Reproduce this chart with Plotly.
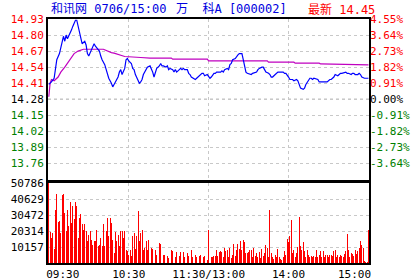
import plotly.graph_objects as go

# ---------------- data ----------------
prev_close = 14.28
last_price = 14.45
title_left = "和讯网 0706/15:00"
title_mid = "万\u00a0\u00a0科A [000002]"
title_right = "最新 14.45"

price_ticks = [14.93, 14.80, 14.67, 14.54, 14.41, 14.28, 14.15, 14.02, 13.89, 13.76]
pct_labels = ["4.55%", "3.64%", "2.73%", "1.82%", "0.91%", "0.00%",
              "-0.91%", "-1.82%", "-2.73%", "-3.64%"]
vol_ticks = [50786, 40629, 30472, 20314, 10157]

time_labels = ["09:30", "10:30", "11:30/13:00", "14:00", "15:00"]
time_label_pos = [10.5, 60, 120, 180, 229.5]
time_grid = [60, 120, 180]

price_min = [0, 2, 4, 6, 8, 10, 11, 12, 13, 14, 16, 17, 18, 19, 20, 21, 22, 23, 24, 25,
             27, 28, 29, 30, 32, 33, 34, 35, 37, 38, 39, 40, 42, 43, 44, 45, 47, 48, 49, 50,
             52, 53, 54, 55, 57, 58, 59, 60, 62, 63, 64, 65, 67, 68, 69, 70, 71, 73, 74, 76,
             77, 78, 79, 80, 81, 83, 84, 85, 86, 88, 89, 90, 91, 93, 94, 95, 96, 98, 99, 100,
             101, 102, 104, 105, 106, 107, 109, 110, 111, 112, 114, 115, 116, 117, 119, 120, 121, 122, 124, 125,
             126, 127, 129, 130, 131, 132, 134, 135, 136, 137, 138, 140, 141, 142, 143, 145, 146, 147, 148, 149,
             151, 152, 153, 155, 156, 157, 158, 160, 161, 162, 163, 165, 166, 167, 168, 170, 171, 172, 173, 175,
             176, 177, 178, 180, 181, 182, 183, 184, 186, 187, 188, 189, 191, 192, 193, 194, 196, 197, 198, 199,
             201, 202, 203, 204, 206, 207, 208, 209, 211, 212, 213, 214, 215, 217, 218, 219, 220, 222, 223, 224,
             225, 227, 228, 229, 230, 232, 233, 234, 235, 237, 238, 240]
price_val = [14.40, 14.42, 14.45, 14.60, 14.65, 14.73, 14.79, 14.75, 14.80, 14.77, 14.81, 14.84, 14.87, 14.90, 14.92, 14.92, 14.87, 14.84, 14.77, 14.73,
             14.75, 14.72, 14.65, 14.63, 14.68, 14.71, 14.73, 14.71, 14.68, 14.67, 14.63, 14.60, 14.56, 14.52, 14.48, 14.45, 14.41, 14.38, 14.40, 14.42,
             14.46, 14.50, 14.52, 14.48, 14.53, 14.60, 14.61, 14.59, 14.57, 14.53, 14.52, 14.48, 14.44, 14.41, 14.42, 14.44, 14.48, 14.52, 14.54, 14.55,
             14.53, 14.50, 14.46, 14.50, 14.53, 14.55, 14.57, 14.55, 14.55, 14.54, 14.55, 14.52, 14.53, 14.52, 14.50, 14.52, 14.50, 14.52, 14.53, 14.52,
             14.53, 14.52, 14.52, 14.49, 14.48, 14.46, 14.45, 14.44, 14.45, 14.46, 14.48, 14.49, 14.49, 14.47, 14.48, 14.46, 14.45, 14.46, 14.49, 14.49,
             14.50, 14.50, 14.50, 14.51, 14.50, 14.52, 14.53, 14.52, 14.56, 14.57, 14.60, 14.61, 14.63, 14.64, 14.65, 14.65, 14.60, 14.53, 14.50, 14.49,
             14.48, 14.48, 14.49, 14.50, 14.50, 14.52, 14.53, 14.54, 14.54, 14.52, 14.50, 14.49, 14.48, 14.46, 14.46, 14.48, 14.49, 14.50, 14.50, 14.50,
             14.50, 14.49, 14.49, 14.46, 14.44, 14.44, 14.44, 14.43, 14.44, 14.43, 14.40, 14.37, 14.36, 14.37, 14.40, 14.42, 14.45, 14.45, 14.44, 14.45,
             14.44, 14.44, 14.42, 14.42, 14.42, 14.42, 14.42, 14.42, 14.44, 14.44, 14.45, 14.46, 14.48, 14.47, 14.48, 14.49, 14.49, 14.50, 14.50, 14.49,
             14.49, 14.48, 14.49, 14.49, 14.48, 14.48, 14.49, 14.48, 14.46, 14.45, 14.45, 14.45]

avg_min = [0, 1, 2, 4, 7, 9, 12, 14, 17, 19, 22, 24, 26, 41, 43, 47, 49, 54, 57, 69,
           76, 92, 93, 119, 120, 164, 165, 184, 185, 203, 204, 240]
avg_val = [14.30, 14.41, 14.44, 14.43, 14.46, 14.50, 14.54, 14.57, 14.61, 14.65,
           14.67, 14.68, 14.685, 14.685, 14.674, 14.658, 14.653, 14.639, 14.626, 14.618,
           14.613, 14.613, 14.605, 14.605, 14.591, 14.591, 14.580, 14.580, 14.572, 14.572,
           14.566, 14.559]

volume = [
    50786, 19470, 15870, 19040, 9100, 33430, 44010, 25820, 26450, 19040,
    43380, 44010, 31740, 20100, 33430, 23280, 38930, 25390, 35970, 27930,
    38510, 35970, 15870, 28570, 31110, 24970, 20740, 24760, 20310, 13750,
    17770, 20530, 14390, 11640, 14180, 13750, 21160, 10580, 11640, 15870,
    10580, 24970, 10580, 20100, 28570, 16930, 28570, 25390, 14810, 6350,
    19470, 13750, 17990, 11000, 20100, 20100, 15870, 20100, 8460, 7830,
    5080, 8460, 4660, 16930, 19040, 8890, 16930, 32800, 13750, 19040,
    21160, 8460, 9520, 13750, 8460, 14810, 7410, 9520, 8890, 6350,
    8460, 5290, 7410, 12700, 12270, 4660, 5290, 5290, 6350, 4230,
    3170, 5290, 8040, 7410, 10580, 3810, 6770, 5290, 4660, 6770,
    4660, 6770, 3810, 5290, 6350, 4660, 7410, 8040, 3810, 6770,
    5290, 3810, 4660, 4230, 5290, 8040, 3810, 4660, 6350, 2120,
    21160,
    8040, 3810, 3810, 4660, 4660, 8460, 4660, 6770, 7410, 6770,
    3810, 9520, 7410, 8040, 3810, 9520, 3170, 5290, 12270, 4230,
    8460, 12270, 8890, 13750, 8460, 14390, 13120, 6350, 6350, 6770,
    8460, 8460, 3810, 9520, 4660, 6350, 3810, 6770, 3170, 8890,
    4230, 6350, 11640, 9520, 3810, 33430, 6350, 3810, 2540, 5290,
    3810, 8890, 3810, 2540, 2120, 3810, 7410, 5290, 15240, 13120,
    16930, 27510, 6350, 8460, 3810, 6350, 10160, 29200, 11000, 8460,
    13120, 7410, 3810, 8040, 5290, 3810, 4660, 3810, 4660, 3810,
    8040, 3810, 5290, 7830, 3810, 7410, 3810, 5290, 5290, 3810,
    5290, 5290, 4660, 7410, 8040, 3810, 5290, 3810, 5290, 4660,
    3810, 5920, 7410, 18620, 8460, 3810, 6350, 5920, 4660, 8460,
    5920, 7410, 9520, 13750, 11640, 9520, 1060, 420, 420, 21160,
]
vol_min = list(range(len(volume)))

# ---------------- styling helpers ----------------
RED = "#FF0000"
GREEN = "#008000"
BLACK = "#000000"
BLUE = "#0000FF"
MAGENTA = "#C000C0"
GRID = "#C8C8C8"
FONT = "DejaVu Sans Mono, Noto Sans CJK SC"


def colored(text, value):
    if value > prev_close + 1e-9:
        c = RED
    elif value < prev_close - 1e-9:
        c = GREEN
    else:
        c = BLACK
    return f"<span style='color:{c}'>{text}</span>"


left_text = [colored(f"{p:.2f}", p) for p in price_ticks]
right_text = [colored(t, p) for t, p in zip(pct_labels, price_ticks)]

W, H = 420, 280
ML, MR, MT, MB = 48, 51, 19, 17
plot_h = H - MT - MB
price_bottom = (H - MB - 179.5) / plot_h
vol_top = (H - MB - 183) / plot_h
x_range = [-0.6, 240.4]

fig = go.Figure()

fig.add_trace(go.Bar(x=vol_min, y=volume, width=0.7, marker=dict(color=RED, line=dict(width=0)),
                     xaxis="x2", yaxis="y3", showlegend=False))
fig.add_trace(go.Scatter(x=avg_min, y=avg_val, mode="lines", line=dict(color=MAGENTA, width=1.2),
                         xaxis="x", yaxis="y", showlegend=False))
fig.add_trace(go.Scatter(x=price_min, y=price_val, mode="lines", line=dict(color=BLUE, width=1.2),
                         xaxis="x", yaxis="y", showlegend=False))
# invisible trace to activate right axis
fig.add_trace(go.Scatter(x=[0], y=[prev_close], mode="markers", marker=dict(opacity=0),
                         xaxis="x", yaxis="y2", showlegend=False, hoverinfo="skip"))

axis_common = dict(showline=True, mirror=True, linecolor=BLACK, linewidth=2, zeroline=False,
                   ticks="", fixedrange=True, automargin=False)

fig.update_layout(
    width=W, height=H, autosize=False,
    margin=dict(l=ML, r=MR, t=MT, b=MB, pad=0, autoexpand=False),
    paper_bgcolor="white", plot_bgcolor="white",
    font=dict(family=FONT, size=11, color=BLACK),
    showlegend=False,
    hovermode=False,
    xaxis=dict(domain=[0, 1], anchor="y", range=x_range, showticklabels=False,
               tickmode="array", tickvals=time_grid, showgrid=True, gridcolor=GRID,
               griddash="dot", gridwidth=1, **axis_common),
    yaxis=dict(domain=[price_bottom, 1], anchor="x", range=[price_ticks[-1] - 0.13, price_ticks[0]],
               tickmode="array", tickvals=price_ticks, ticktext=left_text,
               showgrid=True, gridcolor=GRID, griddash="dot", gridwidth=1, **axis_common),
    yaxis2=dict(overlaying="y", side="right", anchor="x", range=[price_ticks[-1] - 0.13, price_ticks[0]],
                tickmode="array", tickvals=price_ticks, ticktext=right_text, showgrid=False,
                showline=False, zeroline=False, ticks="", fixedrange=True, automargin=False),
    xaxis2=dict(domain=[0, 1], anchor="y3", range=x_range,
                tickmode="array", tickvals=time_label_pos, ticktext=time_labels, showgrid=False,
                minor=dict(tickmode="array", tickvals=time_grid, showgrid=True, gridcolor=GRID,
                           griddash="dot", gridwidth=1, ticks=""),
                **axis_common),
    yaxis3=dict(domain=[0, vol_top], anchor="x2", range=[0, vol_ticks[0]],
                tickmode="array", tickvals=vol_ticks, ticktext=[str(v) for v in vol_ticks],
                showgrid=True, gridcolor=GRID, griddash="dot", gridwidth=1, **axis_common),
    bargap=0,
)

# previous close line (darker dotted)
fig.add_shape(type="line", xref="x domain", yref="y", x0=0, x1=1, y0=prev_close, y1=prev_close,
              line=dict(color="#808080", width=1, dash="dot"), layer="below")


def px_x(px):
    return (px - ML) / (W - ML - MR)


def px_y(py):
    return (H - MB - py) / plot_h


fig.add_annotation(text=title_left, x=px_x(49), y=px_y(9), xref="paper", yref="paper",
                   xanchor="left", yanchor="middle", showarrow=False,
                   font=dict(color="#0000E0", size=12, family=FONT))
fig.add_annotation(text=title_mid, x=px_x(174), y=px_y(9), xref="paper", yref="paper",
                   xanchor="left", yanchor="middle", showarrow=False,
                   font=dict(color="#0000E0", size=12, family=FONT))
fig.add_annotation(text=title_right, x=px_x(306), y=px_y(9), xref="paper", yref="paper",
                   xanchor="left", yanchor="middle", showarrow=False,
                   font=dict(color=RED, size=12, family=FONT))

fig.write_html("out.html",
               config=dict(displayModeBar=False, staticPlot=True),
               post_script="document.body.style.margin='0px';document.body.style.padding='0px';")
